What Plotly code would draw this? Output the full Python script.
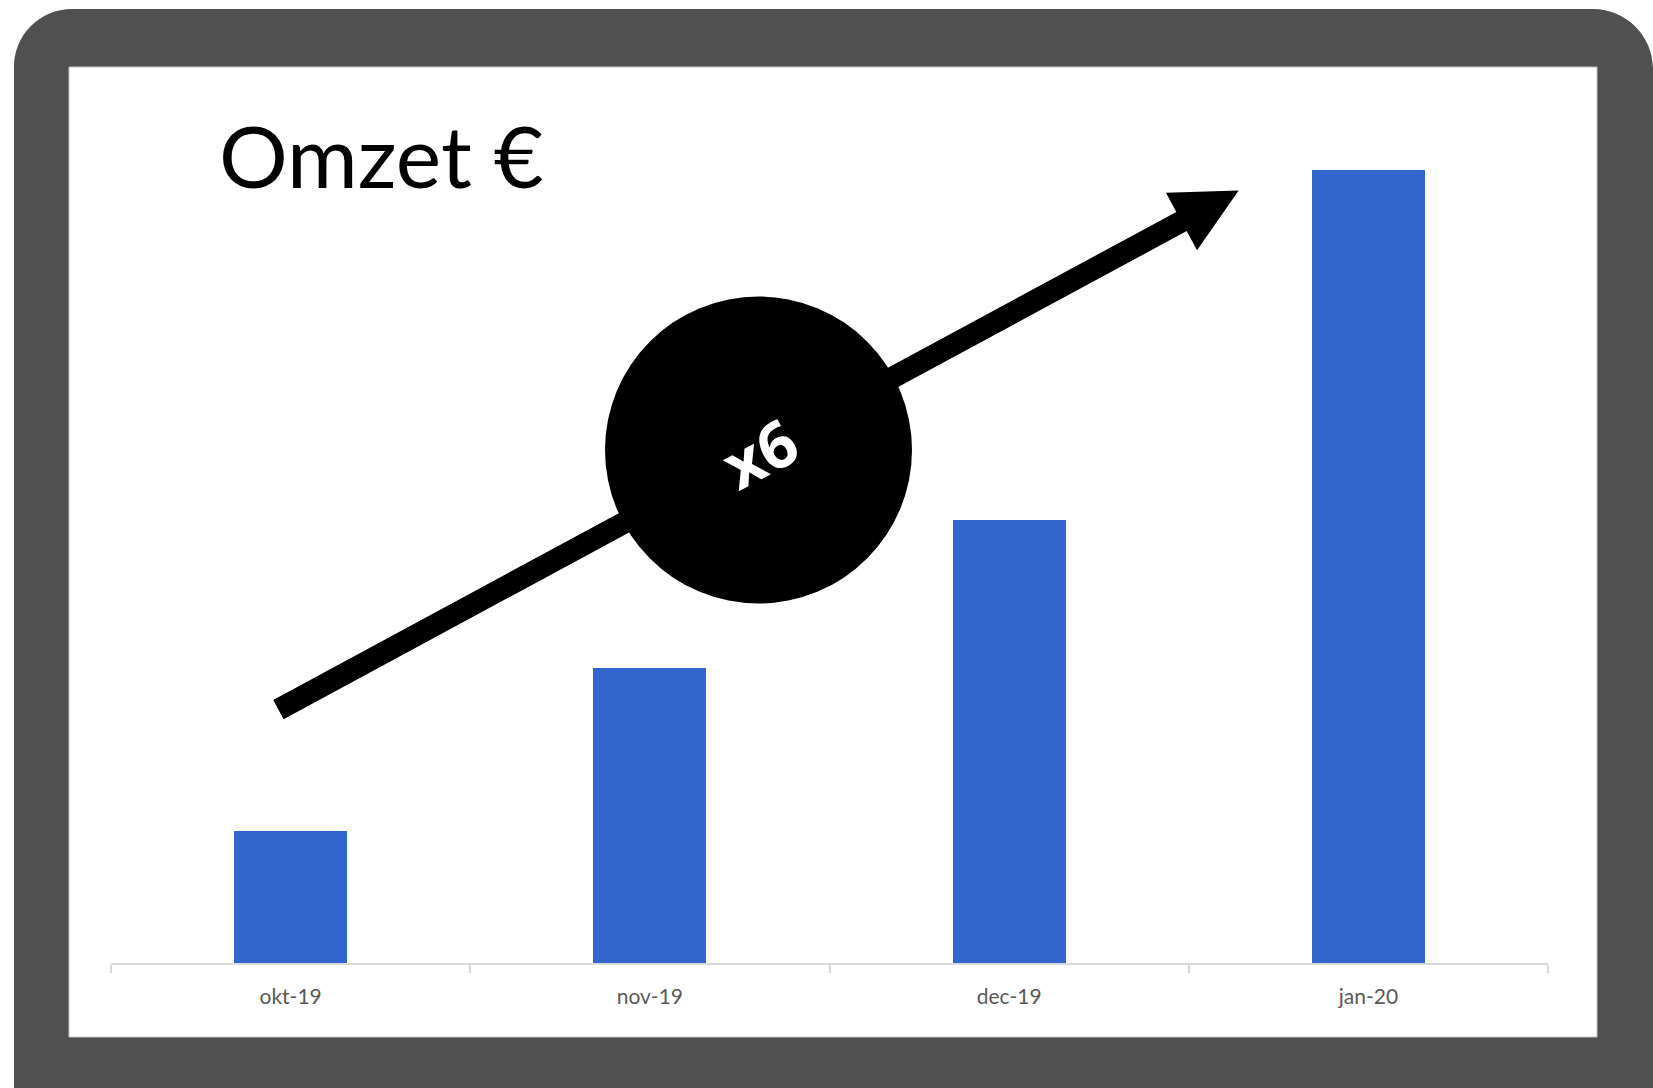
import numpy as np
import plotly.graph_objects as go

# ---- data ----
months = ["okt-19", "nov-19", "dec-19", "jan-20"]
omzet = [10.0, 22.3, 33.5, 60.0]
title_text = "Omzet €"
badge_text = "x6"

# ---- figure geometry (pixels) ----
FW, FH = 1653, 1088
L, R, T, B = 111, 1548, 100, 963
W, H = R - L, B - T
y_max = 65.3


def px(x):
    return (x - L) / W


def py(y):
    return (B - y) / H


def P(x, y):
    return f"{px(x):.5f},{py(y):.5f}"


fig = go.Figure()
fig.add_trace(go.Bar(x=months, y=omzet, marker=dict(color="#3366CC", line=dict(width=0)),
                     width=0.315, hoverinfo="x+y"))

shapes = []
# outer rounded dark frame
x0, y0, x1, y1 = 14, 9, 1653, 1100
r1, r2 = 58, 60
k = 0.5523
frame = (f"M {P(x0, y0 + r1)} C {P(x0, y0 + r1 - k * r1)} {P(x0 + r1 - k * r1, y0)} {P(x0 + r1, y0)} "
         f"L {P(x1 - r2, y0)} C {P(x1 - r2 + k * r2, y0)} {P(x1, y0 + r2 - k * r2)} {P(x1, y0 + r2)} "
         f"L {P(x1 + 10, y0 + r2)} L {P(x1 + 10, y1)} L {P(x0, y1)} Z")
shapes.append(dict(type="path", xref="paper", yref="paper", path=frame,
                   fillcolor="#505050", line=dict(width=0), layer="below"))
# inner white screen
shapes.append(dict(type="rect", xref="paper", yref="paper",
                   x0=px(69), x1=px(1597), y0=py(1037), y1=py(67),
                   fillcolor="white", line=dict(color="#c4c4c4", width=1), layer="below"))

# arrow
S = np.array([278.4, 709.6])
Bm = np.array([1181.5, 221.5])
d = (Bm - S) / np.linalg.norm(Bm - S)
n = np.array([-d[1], d[0]])
hw, hh, hl = 10.9, 32.7, 65.0
tip = Bm + d * hl
pts = [S + n * hw, Bm + n * hw, Bm + n * hh, tip, Bm - n * hh, Bm - n * hw, S - n * hw]
arrow = "M " + " L ".join(P(p[0], p[1]) for p in pts) + " Z"
shapes.append(dict(type="path", xref="paper", yref="paper", path=arrow,
                   fillcolor="black", line=dict(width=0), layer="above"))

# circle badge
cx, cy, cr = 758.5, 450, 153.5
shapes.append(dict(type="circle", xref="paper", yref="paper",
                   x0=px(cx - cr), x1=px(cx + cr), y0=py(cy + cr), y1=py(cy - cr),
                   fillcolor="black", line=dict(width=0), layer="above"))

annotations = [
    dict(text=title_text, xref="paper", yref="paper", x=px(217), y=py(155),
         xanchor="left", yanchor="middle", showarrow=False,
         font=dict(family="Lato", size=86, color="black")),
    dict(text=f"<b>{badge_text}</b>", xref="paper", yref="paper", x=px(760), y=py(453),
         xanchor="center", yanchor="middle", showarrow=False, textangle=-28,
         font=dict(family="Open Sans", size=64, color="white")),
]

fig.update_layout(
    width=FW, height=FH,
    margin=dict(l=L, r=FW - R, t=T, b=FH - B, pad=0),
    paper_bgcolor="white", plot_bgcolor="rgba(0,0,0,0)",
    showlegend=False, bargap=0,
    shapes=shapes, annotations=annotations,
    xaxis=dict(showline=True, linecolor="#d9d9d9", linewidth=2, showgrid=False,
               ticks="outside", tickson="boundaries", ticklen=8, tickcolor="#d9d9d9",
               tickwidth=1.5, zeroline=False, ticklabelstandoff=14,
               tickfont=dict(family="Lato", size=21, color="#595959")),
    yaxis=dict(visible=False, range=[0, y_max], showgrid=False, zeroline=False),
)

fig.write_html("out.html", config={"displayModeBar": False},
               post_script="document.body.style.margin='0px';")
